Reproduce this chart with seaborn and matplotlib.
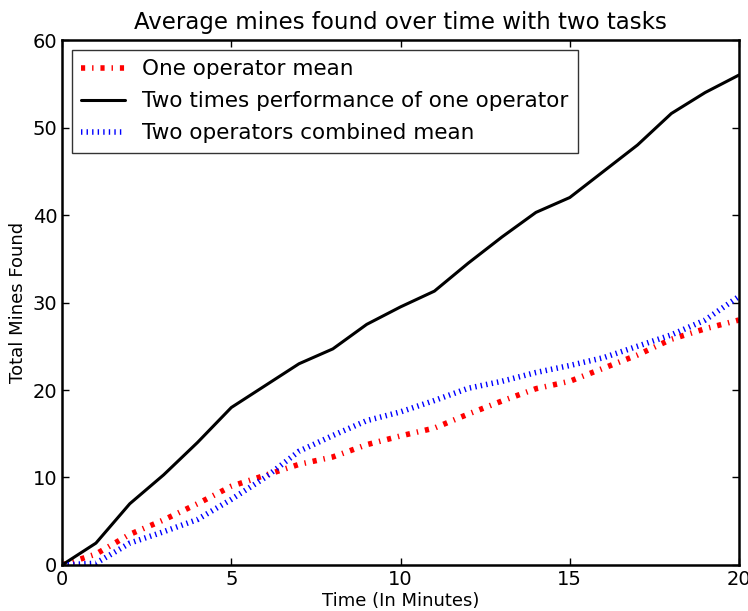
import numpy as np
import pandas as pd
import matplotlib
matplotlib.use("Agg")
import matplotlib.pyplot as plt
import seaborn as sns

# Veriler
minutes = list(range(0, 21))
one_operator = [0, 1.25, 3.5, 5.15, 7.0, 9.0, 10.25, 11.5, 12.35, 13.75, 14.75,
                15.65, 17.25, 18.75, 20.15, 21.0, 22.5, 24.0, 25.8, 27.0, 28.0]
two_times = [0, 2.5, 7.0, 10.3, 14.0, 18.0, 20.5, 23.0, 24.7, 27.5, 29.5,
             31.3, 34.5, 37.5, 40.3, 42.0, 45.0, 48.0, 51.6, 54.0, 56.0]
two_combined = [0, 0.2, 2.5, 3.8, 5.2, 7.5, 10.0, 13.0, 14.8, 16.5, 17.5,
                18.8, 20.2, 21.0, 22.0, 22.8, 23.7, 25.0, 26.3, 28.0, 30.7]

sns.set_style("ticks")
plt.rcParams['xtick.direction'] = 'in'
plt.rcParams['ytick.direction'] = 'in'
plt.rcParams['xtick.top'] = True
plt.rcParams['ytick.right'] = True
plt.rcParams['xtick.major.size'] = 5
plt.rcParams['ytick.major.size'] = 5
plt.rcParams['xtick.color'] = 'black'
plt.rcParams['ytick.color'] = 'black'
plt.rcParams['text.color'] = 'black'
plt.rcParams['axes.labelcolor'] = 'black'
plt.rcParams['lines.scale_dashes'] = False  # eski matplotlib kesik cizgi gorunumu
plt.rcParams['font.family'] = ['DejaVu Sans']

fig = plt.figure(figsize=(7.48, 6.11), dpi=100)
ax = fig.add_axes([0.083, 0.0753, 0.905, 0.8592])

df = pd.DataFrame({"t": minutes, "one": one_operator, "two": two_times, "comb": two_combined})

sns.lineplot(data=df, x="t", y="one", ax=ax, color="red", linestyle=(0, (3, 5, 1, 5)),
             linewidth=4, label="One operator mean")
sns.lineplot(data=df, x="t", y="two", ax=ax, color="black", linestyle="-", linewidth=2.2,
             label="Two times performance of one operator")
sns.lineplot(data=df, x="t", y="comb", ax=ax, color="blue", linestyle=(0, (1, 3)),
             linewidth=4, label="Two operators combined mean")

ax.set_xlim(0, 20)
ax.set_ylim(0, 60)
ax.set_xticks([0, 5, 10, 15, 20])
ax.set_yticks([0, 10, 20, 30, 40, 50, 60])
ax.tick_params(labelsize=14, width=1)
for s in ax.spines.values():
    s.set_linewidth(1.8)
    s.set_color("black")

ax.set_title("Average mines found over time with two tasks", fontsize=16.5, pad=8)
ax.set_xlabel("Time (In Minutes)", fontsize=13, labelpad=2)
ax.set_ylabel("Total Mines Found", fontsize=13)

leg = ax.legend(loc="upper left", fontsize=15.5, frameon=True, fancybox=False,
                handlelength=2.0, borderpad=0.45, labelspacing=0.55, borderaxespad=0.45)
leg.get_frame().set_edgecolor("black")
leg.get_frame().set_linewidth(1)

fig.savefig("out.png", dpi=100)
